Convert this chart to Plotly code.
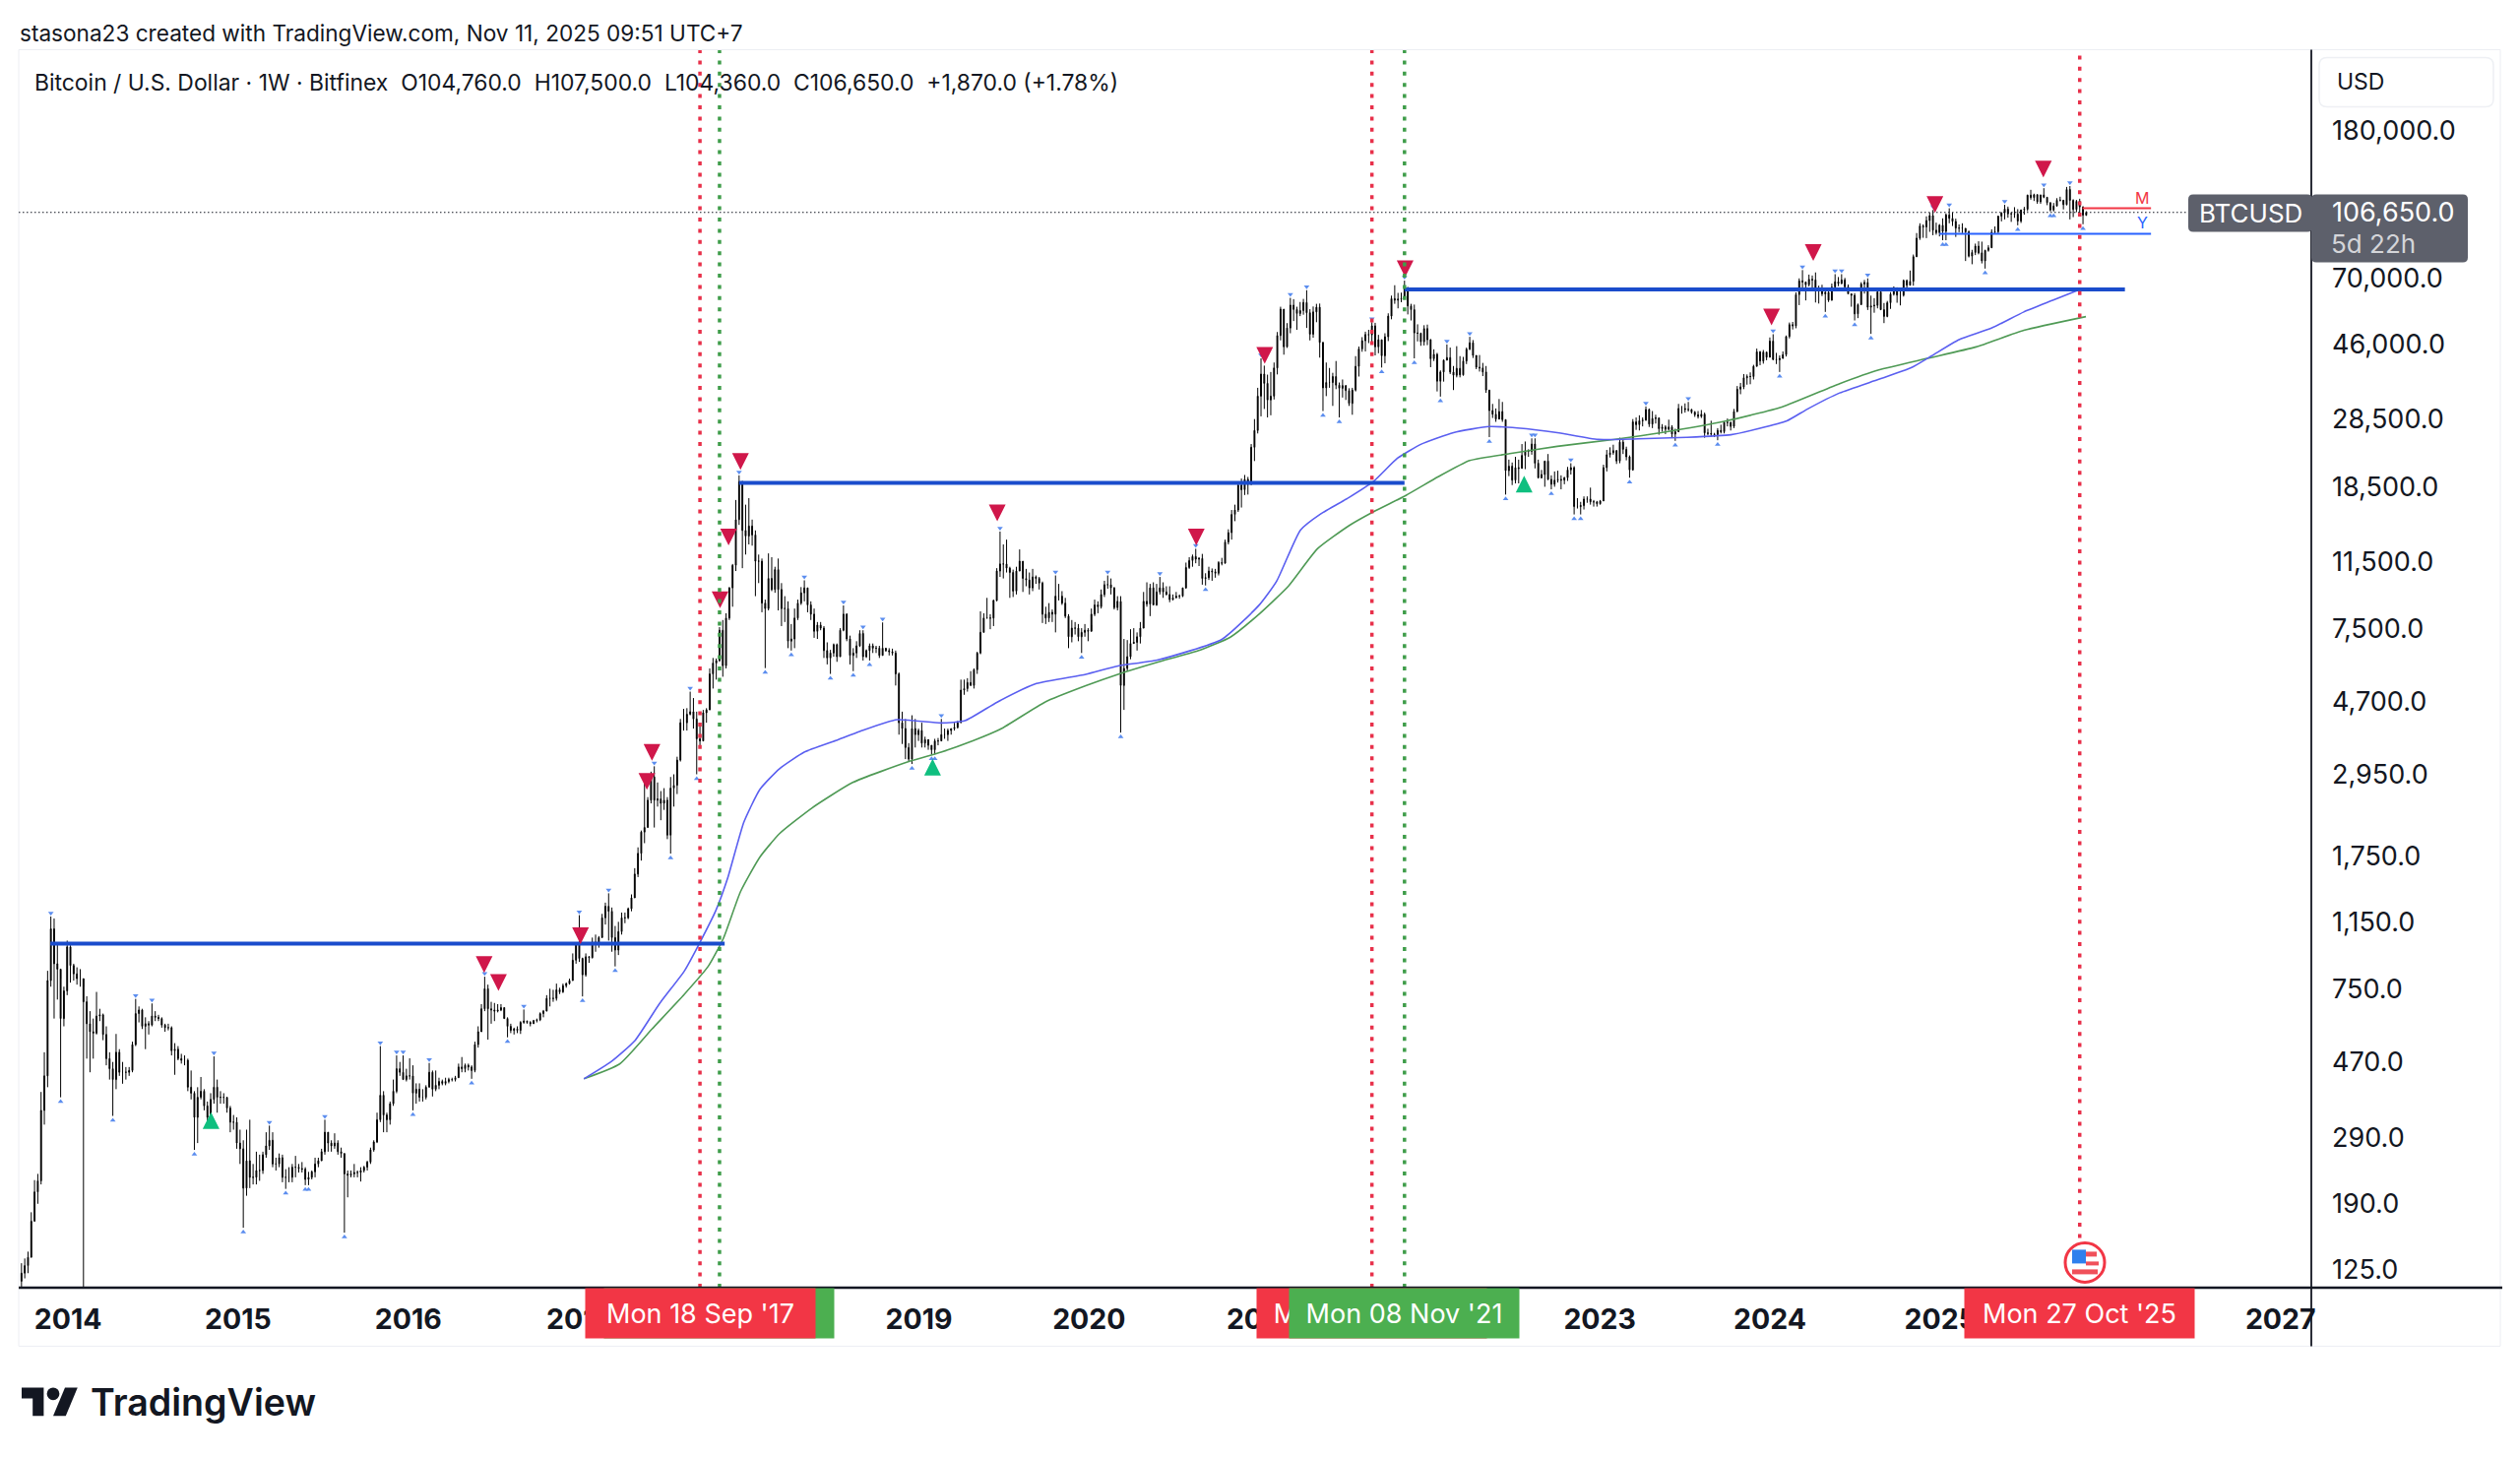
import datetime as dt
import math
import plotly.graph_objects as go

# --- weekly bars: (high, low, close); opens follow the previous close
first_monday = {2013: "2013-09-23", 2014: "2014-01-06", 2015: "2015-01-05", 2016: "2016-01-04", 2017: "2017-01-02",
                2018: "2018-01-01", 2019: "2019-01-07", 2020: "2020-01-06", 2021: "2021-01-04", 2022: "2022-01-03",
                2023: "2023-01-02", 2024: "2024-01-01", 2025: "2025-01-06"}
bars_2013 = [(130,111,122),(134,118,128),(140,122,135),(180,135,170),(221,170,205),(230,190,220),(388,215,345),(500,315,430),(841,400,790),(1190,760,1100),(1175,620,880),(1010,700,850),(800,375,620),(760,590,740),(1020,720,980)]
bars_2014 = [(990,780,870),(880,790,825),(860,770,800),(850,760,800),(760,102,690),(715,480,600),(650,440,570),(620,480,565),(735,560,630),(660,610,635),(640,540,560),(590,460,480),(500,420,450),(470,333,420),(562,395,500),(510,430,440),(470,409,440),(455,420,440),(455,430,445),(535,440,525),(703,520,640),(670,605,655),(660,580,590),(625,510,600),(610,560,595),(683,590,630),(650,610,625),(635,610,620),(625,585,595),(600,570,585),(600,575,585),(590,490,505),(530,433,510),(520,475,480),(495,465,475),(490,460,475),(480,390,400),(445,370,385),(390,268,330),(400,280,375),(427,370,390),(395,345,355),(365,308,330),(385,318,370),(487,360,400),(420,340,375),(390,360,375),(385,360,375),(375,340,350),(355,300,320),(335,305,320),(330,270,280)]
bars_2015 = [(305,245,270),(285,163,210),(305,200,250),(325,210,225),(245,215,225),(265,215,235),(260,220,235),(265,230,260),(300,255,275),(313,268,285),(300,240,245),(255,235,245),(262,240,255),(260,218,225),(237,209,225),(240,218,225),(245,218,240),(258,225,240),(245,232,238),(248,232,237),(240,214,222),(233,214,225),(235,222,233),(255,225,245),(255,240,250),(270,250,265),(325,260,300),(300,265,280),(285,265,275),(298,270,280),(285,260,265),(272,255,262),(262,158,230),(235,198,228),(235,225,230),(245,225,232),(235,225,232),(240,219,235),(242,232,240),(250,235,248),(272,245,268),(285,265,282),(340,280,325),(520,320,380),(390,300,335),(340,300,325),(365,315,360),(420,355,390),(490,385,450),(470,430,440),(490,420,420),(450,415,430)]
bars_2016 = [(481,420,430),(460,345,385),(410,360,395),(410,365,375),(395,365,375),(405,370,400),(467,400,440),(445,377,395),(445,390,405),(425,395,415),(420,405,410),(425,405,415),(425,410,420),(425,415,420),(430,415,425),(465,425,455),(485,440,450),(465,440,460),(465,445,455),(460,422,445),(535,440,525),(590,515,570),(680,570,660),(810,650,750),(770,542,660),(690,600,655),(685,610,650),(680,645,655),(680,650,665),(665,620,620),(625,550,590),(600,565,575),(585,560,580),(590,565,575),(610,562,605),(657,600,610),(612,600,605),(610,590,600),(615,600,612),(620,605,615),(645,610,640),(655,625,650),(720,650,705),(750,670,705),(745,690,705),(775,695,745),(755,725,735),(775,730,765),(780,755,775),(800,770,790),(940,790,900),(1000,880,1000)]
bars_2017 = [(1200,890,910),(915,714,820),(940,810,920),(925,885,915),(1040,910,1010),(1060,950,1000),(1050,975,1040),(1210,1050,1180),(1300,1130,1270),(1380,1020,1230),(1260,950,1040),(1120,865,960),(1150,930,1080),(1220,1060,1180),(1220,1140,1180),(1260,1170,1250),(1370,1230,1340),(1620,1340,1560),(1850,1530,1780),(2060,1700,2040),(2790,1900,2100),(2550,2100,2500),(3000,2450,2900),(3105,2100,2500),(2800,2400,2520),(2650,2200,2450),(2700,2350,2500),(2550,1950,2000),(2900,1778,2700),(2950,2400,2750),(3300,2600,3230),(4200,3200,4100),(4480,3900,4100),(4500,3900,4330),(5000,4300,4400),(4800,3950,4200),(4400,2950,3700),(4100,3500,3650),(4450,3650,4370),(4500,4100,4450),(5800,4450,5600),(6200,5100,6000),(6180,5400,6100),(7550,6050,7400),(7900,5500,5900),(8250,5800,8000),(9750,7900,9700),(11300,8600,11200),(17000,10800,15000),(19900,14500,19100),(19200,11000,14000),(16500,12000,13500)]
bars_2018 = [(17200,12800,14400),(15000,12700,13600),(14000,9200,11500),(12000,10000,11500),(11700,8300,8800),(9000,5812,8500),(12090,8400,10300),(11800,9500,9600),(11100,9400,10900),(11700,8400,9600),(10000,7600,8500),(9200,7800,8500),(8900,6600,6900),(7700,6500,7000),(8500,6600,8000),(9000,7900,8800),(9750,8700,9400),(10180,8900,9700),(9700,8300,8700),(8900,7900,8200),(8500,7050,7350),(7800,7000,7650),(7800,7400,7500),(7600,6200,6500),(6850,5950,6200),(6530,5600,6400),(6800,6250,6750),(6800,6050,6250),(7500,6300,7400),(8670,7350,8200),(8250,6900,7000),(7150,5950,6300),(6600,5700,6400),(6900,6200,6700),(7400,6650,7250),(7400,6100,6250),(6550,6200,6500),(6800,6100,6700),(6800,6400,6600),(6700,6400,6600),(6700,6200,6300),(7780,6300,6600),(6600,6450,6500),(6600,6300,6450),(6580,6300,6400),(6500,5200,5600),(5650,3800,4100),(4400,3580,3950),(4200,3250,3500),(3600,3200,3250),(4300,3150,3950),(4200,3500,3800),(3950,3650,3900)]
bars_2019 = [(4100,3500,3600),(3750,3500,3680),(3650,3450,3550),(3550,3350,3450),(3700,3350,3650),(3720,3550,3650),(4200,3650,3800),(3950,3700,3800),(3950,3650,3900),(3950,3800,3950),(4100,3900,3980),(4150,3950,4100),(5400,4100,5050),(5400,4900,5100),(5450,5000,5300),(5700,5200,5200),(5800,5100,5750),(6450,5600,6400),(8350,6350,7300),(8250,7300,8000),(9100,8000,8000),(8200,7450,8000),(9000,7600,8950),(11000,8900,10800),(13900,10400,11300),(12800,10300,11300),(13200,10700,11000),(11100,9100,10700),(10900,9150,9500),(11100,9300,10800),(12400,11100,11500),(11500,9450,10300),(10950,9800,10200),(10700,9300,9700),(10950,9500,10400),(10500,9950,10300),(10400,9600,10000),(10100,7750,8200),(8600,7700,8000),(8800,7800,8300),(8450,7800,8200),(10500,7300,9200),(9950,8950,9200),(9500,8700,8800),(9100,8000,8100),(8200,6600,7100),(7900,6850,7500),(7800,7200,7500),(7700,6900,7100),(7500,6400,7300),(7700,7100,7400),(7500,6900,7350)]
bars_2020 = [(8500,7650,8200),(9000,8100,8700),(8900,8250,8600),(9600,8500,9300),(10150,9150,9900),(10500,9650,9900),(10300,9300,9700),(9750,8450,8550),(9200,8400,8900),(9200,3850,5200),(7000,4450,5800),(6950,5700,6250),(7450,6150,6800),(7500,6800,6850),(7300,6500,7100),(7800,6800,7500),(9450,7500,8900),(10050,8600,8750),(9950,8100,9700),(10050,8800,8700),(9950,8650,9450),(10400,9300,9700),(10050,9100,9450),(9800,9250,9300),(9800,8850,9000),(9300,8950,9100),(9450,9100,9200),(9300,9050,9200),(9700,9150,9700),(11400,9650,11050),(11800,10950,11550),(12000,11100,11850),(12450,11350,11650),(11800,11150,11700),(12050,9900,10300),(10650,9850,10350),(11100,10200,10800),(10980,10150,10750),(10950,10350,10650),(11500,10500,11400),(11750,11200,11350),(13200,11400,13000),(14100,12800,13800),(15950,13200,15500),(16500,14850,15950),(18900,15750,18700),(19500,16200,18150),(19950,17550,19400),(19700,17600,18800),(24300,18700,23800),(28500,21800,26500),(34800,26000,33000)]
bars_2021 = [(42000,29000,38000),(40100,30400,35800),(37850,28800,32200),(38500,29200,33000),(40900,32300,39500),(49700,37900,48600),(58400,47100,57500),(57500,43000,45200),(52600,44900,51000),(61800,49300,59000),(61300,53300,57400),(58400,50400,55900),(60200,55000,57000),(61400,55500,60000),(64900,51000,56200),(57500,47100,49000),(58500,47900,56500),(59500,52900,58200),(59600,42200,46500),(46600,30000,34800),(40900,33000,36000),(39500,34800,36000),(38300,31000,37400),(41300,34500,35400),(36000,28800,34700),(36700,32700,35300),(35100,32200,34200),(34700,31000,31500),(34800,29300,34300),(42600,34000,39900),(45300,37400,44600),(48100,43800,47000),(49800,43900,48900),(50400,46300,48800),(52900,46500,51700),(52700,42800,45200),(48800,43400,47300),(47300,39600,42700),(49300,40700,48200),(56000,46900,55000),(62700,53900,61500),(67000,59500,60900),(63800,57800,61300),(63900,60100,61500),(69000,62300,65500),(66300,55600,58700),(59500,53500,57300),(59200,42000,49400),(52200,46800,49300),(49500,45500,46700),(51900,45600,50800),(52100,45700,47300)]
bars_2022 = [(47500,39700,41900),(44500,41300,43100),(43500,34000,36300),(38900,32900,38500),(41700,36200,41500),(45900,41700,42200),(45000,38000,38500),(40000,34300,37700),(45400,37200,39400),(42600,37200,37800),(42400,37600,41300),(45000,40500,44500),(48200,44300,46400),(47200,42100,42800),(42400,39200,39700),(42900,38600,39500),(40800,37500,38500),(40000,33700,34300),(34300,25400,30100),(31400,28700,29400),(30500,28000,28500),(32400,29300,29900),(31800,28000,28400),(28400,17600,20500),(22000,19800,21100),(21600,18700,19300),(22400,18900,20900),(22000,18900,20800),(24300,20800,22600),(24700,20700,23300),(23500,22400,23200),(25200,22700,24300),(25200,20800,21500),(22000,19500,19600),(20600,19500,20000),(21800,18500,21800),(22800,19300,19400),(19900,18200,18800),(20400,18500,19300),(20500,19000,19400),(19900,18200,19300),(19700,18800,19600),(21000,19200,20600),(21500,20000,20900),(21100,15500,16300),(17200,16100,16300),(16800,15500,16400),(17400,16000,17100),(17400,16700,17100),(18400,16500,16800),(17000,16300,16800),(16900,16300,16600)]
bars_2023 = [(17000,16500,16900),(21300,17000,20900),(23400,20400,22700),(23800,22300,23000),(24200,22700,23300),(23400,21400,21800),(25300,21500,24600),(25100,22800,23500),(23900,21900,22400),(22600,19600,20600),(28500,20500,28000),(28800,26600,27500),(29200,26500,28200),(28800,27200,28300),(30900,28200,30300),(30500,27100,27600),(30000,26900,28600),(29300,27700,28700),(28800,25800,26800),(27600,26300,27100),(27400,25900,26700),(28400,26500,27100),(27400,25400,25900),(26800,24800,26300),(31400,26200,30500),(31000,29500,30500),(31500,29700,30300),(31800,29900,30300),(30400,29500,29800),(30000,28900,29300),(30000,28600,29000),(30200,28700,29400),(29700,25300,26100),(26800,25700,26000),(28200,25500,25900),(26100,25400,25800),(26900,24900,26500),(27500,26000,26300),(28100,26000,27900),(28600,27200,27900),(28000,26500,27200),(30400,26900,29900),(35200,29800,34500),(35900,33400,35000),(38000,34500,37100),(37900,35500,37400),(38400,35600,37400),(40300,36700,39900),(44700,39900,43800),(44000,40200,41300),(44300,40600,43700),(43800,41500,42300)]
bars_2024 = [(48000,42600,46900),(49000,41500,41700),(43500,40500,41600),(42800,38500,42000),(43900,41900,43000),(48600,42500,48300),(52800,47700,52100),(53000,50500,51700),(64000,50900,63100),(70000,59000,68900),(73800,64500,68400),(68000,60800,67200),(71700,66500,69600),(71300,64500,69300),(72700,60000,65600),(66800,59600,64900),(67200,62500,63400),(64700,56500,64000),(65500,60200,60900),(67700,60700,66200),(71900,66200,68500),(70600,66600,67700),(71900,67500,69300),(70200,65000,66300),(67300,63200,63400),(63300,58400,62800),(63700,53500,55800),(59600,54300,59200),(68300,59100,67500),(69300,63500,68200),(70000,57200,58200),(62700,49100,58700),(61700,56200,58900),(65000,57800,64200),(64500,57200,57300),(59800,52600,54900),(60600,54600,59900),(64100,57600,63300),(66500,62700,65900),(66000,59900,62900),(64500,58900,62900),(69500,62300,69000),(69500,65300,67000),(73600,67500,68700),(81500,66800,80400),(93500,80200,90500),(99500,89500,97800),(98800,90700,97200),(104000,90500,101200),(106500,94200,104500),(108300,92200,95200),(99900,92500,93700),(99000,91500,98300)]
bars_2025 = [(102700,89300,94500),(106000,89300,105000),(109500,99500,102700),(106500,97800,100700),(102500,91200,96500),(98800,94000,96500),(99500,93400,96300),(96500,78200,94200),(95000,80000,80700),(84000,76600,82600),(87400,81200,86000),(88700,81600,82400),(88500,77000,78300),(84000,74500,83700),(86500,83000,85100),(95700,85200,94000),(97500,92800,94300),(104400,93400,104100),(106700,100700,106400),(112000,102000,109000),(110700,103100,105700),(106800,100400,105700),(110300,103000,105500),(108900,98200,100900),(108500,99700,108400),(110500,105100,108900),(119400,107500,119100),(123200,115700,117300),(120200,114700,119400),(119800,112700,114200),(119300,112700,119300),(124500,116800,117500),(117700,111700,113500),(113700,107300,108300),(113300,107300,111100),(116800,110800,115300),(117900,114400,115300),(113700,108700,112100),(125500,111600,123500),(126200,102000,115200),(116000,103500,108700),(115500,106800,114500),(116400,106300,110500),(110800,98900,104760),(107500,104360,106650)]
bars_by_year = {2013: bars_2013, 2014: bars_2014, 2015: bars_2015, 2016: bars_2016, 2017: bars_2017, 2018: bars_2018, 2019: bars_2019,
                2020: bars_2020, 2021: bars_2021, 2022: bars_2022, 2023: bars_2023, 2024: bars_2024, 2025: bars_2025}

# moving averages, (year fraction, price)
ma_blue_years = [2017.03,2017.19,2017.33,2017.475,2017.62,2017.71,2017.805,2017.875,2017.97,2018.065,2018.18,2018.325,2018.51,2018.655,2018.87,2019.13,2019.27,2019.46,2019.69,2019.98,2020.17,2020.40,2020.78,2021.0,2021.10,2021.24,2021.36,2021.525,2021.67,2021.81,2021.95,2022.14,2022.35,2022.515,2022.75,2022.99,2023.225,2023.51,2023.77,2023.93,2024.10,2024.22,2024.41,2024.64,2024.83,2024.95,2025.11,2025.30,2025.49,2025.66,2025.82]
ma_blue_values = [422,471,539,683,840,1005,1236,1522,2175,2680,3058,3398,3658,3884,4181,4094,4153,4677,5265,5585,5893,6115,6982,8717,10120,14030,15570,17270,19150,22200,24290,26140,27180,26930,26140,25020,25130,25370,25780,26790,28180,30370,33680,36740,39550,42660,47320,50930,56490,60830,65200]
ma_green_years = [2017.03,2017.24,2017.43,2017.62,2017.76,2017.85,2017.95,2018.065,2018.18,2018.37,2018.61,2018.94,2019.13,2019.32,2019.48,2019.74,2019.98,2020.17,2020.40,2020.64,2020.83,2021.0,2021.17,2021.34,2021.525,2021.67,2021.86,2022.05,2022.235,2022.47,2022.75,2023.08,2023.36,2023.745,2024.07,2024.41,2024.64,2024.925,2025.21,2025.49,2025.855]
ma_green_values = [422,464,580,724,865,1036,1394,1740,2020,2378,2800,3200,3398,3658,3938,4677,5192,5585,6030,6490,7080,8228,9820,12450,14430,15780,17510,19720,21880,22860,23950,25020,26140,28180,30780,35730,39000,41980,45190,50230,54830]

# triangles
sell_years = [2016.446,2016.53,2017.01,2017.40,2017.43,2017.83,2017.88,2017.95,2019.46,2020.63,2021.03,2021.855,2024.01,2024.255,2024.97,2025.605]
sell_prices = [875,781,1052,2819,3391,8990,13418,21730,15650,13418,42800,74470,54700,82500,112200,140700]
buy_years = [2014.84,2019.08,2022.555]
buy_prices = [323,3090,18820]

# levels: (start, end, price)
level_starts = ["2013-11-24","2017-12-11","2021-11-08"]
level_ends = ["2017-11-10","2021-11-08","2026-02-01"]
level_prices = [1001,18970,65200]
m_level = ("2025-11-02","2026-03-29",109500)
y_level = ("2024-12-30","2026-03-29",93060)
last_price = 106650

red_lines = ["2017-09-18","2021-08-30","2025-10-27"]
green_lines = ["2017-10-30","2021-11-08"]

year_ticks = list(range(2014,2028))
price_ticks = [180000,70000,46000,28500,18500,11500,7500,4700,2950,1750,1150,750,470,290,190,125]

# --- page geometry (pixels)
W,H = 2560,1481
PL,PR,PT,PB = 19,2348,50.5,1307.6
def px(x): return (x-PL)/(PR-PL)
def py(y): return (PB-y)/(PB-PT)
def yr2date(y):
    yi = int(y)
    return dt.datetime(yi,1,1)+dt.timedelta(days=(y-yi)*365.25)
def rrect(x0,y0,x1,y1,r):
    a,b,c,d = px(x0),px(x1),py(y0),py(y1)
    rx,ry = r/(PR-PL), r/(PB-PT)
    return (f"M{a+rx},{c} L{b-rx},{c} Q{b},{c} {b},{c-ry} L{b},{d+ry} Q{b},{d} {b-rx},{d} "
            f"L{a+rx},{d} Q{a},{d} {a},{d+ry} L{a},{c-ry} Q{a},{c} {a+rx},{c} Z")

dates,high,low,close = [],[],[],[]
for yr,rows in bars_by_year.items():
    d0 = dt.datetime.fromisoformat(first_monday[yr])
    for i,(h,l,c) in enumerate(rows):
        dates.append(d0+dt.timedelta(days=7*i)); high.append(h); low.append(l); close.append(c)
opens = [close[0]*0.95]+close[:-1]

FONT = "Inter"
INK = "#131722"
fig = go.Figure()
fig.add_trace(go.Candlestick(x=dates,open=opens,high=high,low=low,close=close,
    increasing=dict(line=dict(color="#000000",width=1),fillcolor="#000000"),
    decreasing=dict(line=dict(color="#000000",width=1),fillcolor="#000000"),
    whiskerwidth=0,hoverinfo="skip",showlegend=False))

# pivot marks of the fractal study, from the same bars
N = 4
fx_h,fy_h,fx_l,fy_l = [],[],[],[]
for i in range(len(dates)):
    a,b = max(0,i-N),min(len(dates),i+N+1)
    if i>=N and i<len(dates)-1 and high[i]==max(high[a:b]):
        fx_h.append(dates[i]); fy_h.append(high[i]*1.022)
    if i>=N and i<len(dates)-1 and low[i]==min(low[a:b]) and low[i]>111:
        fx_l.append(dates[i]); fy_l.append(low[i]/1.028)
fig.add_trace(go.Scatter(x=fx_h,y=fy_h,mode="markers",marker=dict(symbol="triangle-down",size=5,color="#5b8def"),hoverinfo="skip",showlegend=False))
fig.add_trace(go.Scatter(x=fx_l,y=fy_l,mode="markers",marker=dict(symbol="triangle-up",size=5,color="#5b8def"),hoverinfo="skip",showlegend=False))

fig.add_trace(go.Scatter(x=[yr2date(v) for v in ma_green_years],y=ma_green_values,mode="lines",line=dict(color="#4f9a55",width=1.6,shape="spline",smoothing=0.5),hoverinfo="skip",showlegend=False))
fig.add_trace(go.Scatter(x=[yr2date(v) for v in ma_blue_years],y=ma_blue_values,mode="lines",line=dict(color="#5a5ff0",width=1.6,shape="spline",smoothing=0.5),hoverinfo="skip",showlegend=False))

for s,e,p in zip(level_starts,level_ends,level_prices):
    fig.add_trace(go.Scatter(x=[s,e],y=[p,p],mode="lines",line=dict(color="#1a4ccc",width=4),hoverinfo="skip",showlegend=False))
fig.add_trace(go.Scatter(x=m_level[:2],y=[m_level[2]]*2,mode="lines",line=dict(color="#f23645",width=2),hoverinfo="skip",showlegend=False))
fig.add_trace(go.Scatter(x=y_level[:2],y=[y_level[2]]*2,mode="lines",line=dict(color="#2962ff",width=2),hoverinfo="skip",showlegend=False))

# tall triangles: filled polygons around each signal (half sizes are style, in days / log-price)
HALF_DAYS = 18.0
HALF_FACTOR = 10**(8.5/366.3)
def tri_trace(years,prices,down,color):
    xs,ys = [],[]
    for yv,p in zip(years,prices):
        d = yr2date(yv); dd = dt.timedelta(days=HALF_DAYS)
        if down:
            xs += [d-dd,d+dd,d,None]; ys += [p*HALF_FACTOR,p*HALF_FACTOR,p/HALF_FACTOR,None]
        else:
            xs += [d-dd,d+dd,d,None]; ys += [p/HALF_FACTOR,p/HALF_FACTOR,p*HALF_FACTOR,None]
    return go.Scatter(x=xs,y=ys,mode="lines",fill="toself",fillcolor=color,line=dict(width=0,color=color),hoverinfo="skip",showlegend=False)
fig.add_trace(tri_trace(sell_years,sell_prices,True,"#d0174a"))
fig.add_trace(tri_trace(buy_years,buy_prices,False,"#0fbf7f"))

shapes,anns = [],[]
def rect(x0,y0,x1,y1,fill=None,line=None,lw=1,r=0,layer="above"):
    shapes.append(dict(type="path",path=rrect(x0,y0,x1,y1,r) if r else f"M{px(x0)},{py(y0)} L{px(x1)},{py(y0)} L{px(x1)},{py(y1)} L{px(x0)},{py(y1)} Z",
        xref="paper",yref="paper",fillcolor=fill or "rgba(0,0,0,0)",line=dict(color=line or "rgba(0,0,0,0)",width=lw if line else 0),layer=layer))
def hv(x0,y0,x1,y1,color,lw,dash="solid",layer="above"):
    shapes.append(dict(type="line",xref="paper",yref="paper",x0=px(x0),x1=px(x1),y0=py(y0),y1=py(y1),line=dict(color=color,width=lw,dash=dash),layer=layer))
def text(x,y,s,size,color=INK,anchor="left",weight=400,vanchor="middle"):
    anns.append(dict(xref="paper",yref="paper",x=px(x),y=py(y),text=s,showarrow=False,xanchor=anchor,yanchor=vanchor,
        font=dict(family=FONT,size=size,color=color,weight=weight),borderpad=0,align="left"))

# frame
rect(19,50,2540,1367,line="#eceef3",lw=1,layer="below")
shapes.append(dict(type="line",xref="paper",yref="y",x0=0,x1=px(2223),y0=last_price,y1=last_price,line=dict(color=INK,width=1.2,dash="1.5px,2.5px"),layer="above"))

# vertical session lines
dot = "4px,7.4px"
for d,c,top in [(red_lines[0],"#e8304a",0),(green_lines[0],"#3f9d4a",0),(red_lines[1],"#e8304a",0),(green_lines[1],"#3f9d4a",0),(red_lines[2],"#e8304a",py(1257))]:
    shapes.append(dict(type="line",xref="x",yref="paper",x0=d,x1=d,y0=top,y1=1,line=dict(color=c,width=3.5,dash=dot),layer="above"))

# axes
hv(19,1307.6,2542,1307.6,INK,2.5)
hv(2348,50,2348,1367,INK,1.8)

# USD box and price flag
rect(2356,58,2533,108,fill="#ffffff",line="#eef0f4",lw=1.5,r=8)
text(2373,83,"USD",23)
rect(2223,197,2349,235,fill="#5d606b",r=5)
rect(2348,197,2507,266,fill="#5d606b",r=5)
text(2233,216,"BTCUSD",26,"#ffffff")
text(2368,215,"106,650.0",27,"#ffffff")
text(2367,247,"5d 22h",26,"#d4d5d9")

# header
text(19,33,"stasona23 created with TradingView.com, Nov 11, 2025 09:51 UTC+7",22.6)
text(34,84,"Bitcoin / U.S. Dollar · 1W · Bitfinex&nbsp;&nbsp;O104,760.0&nbsp;&nbsp;H107,500.0&nbsp;&nbsp;L104,360.0&nbsp;&nbsp;C106,650.0&nbsp;&nbsp;+1,870.0 (+1.78%)",22.9)

# M / Y tags (annotation y on a log axis takes log10)
anns.append(dict(xref="x",yref="y",x="2026-03-10",y=math.log10(m_level[2]),yshift=11,text="M",showarrow=False,font=dict(family=FONT,size=16,color="#f23645")))
anns.append(dict(xref="x",yref="y",x="2026-03-10",y=math.log10(y_level[2]),yshift=11,text="Y",showarrow=False,font=dict(family=FONT,size=16,color="#2962ff")))

# date flags on the time axis
def flag(date,label,color):
    anns.append(dict(xref="x",yref="paper",x=date,y=0,yanchor="top",xanchor="center",text=label,showarrow=False,
        width=233,height=50,bgcolor=color,borderpad=0,valign="middle",align="center",font=dict(family=FONT,size=27,color="#ffffff")))
flag(green_lines[0],"Mon 30 Oct '17","#4caf50")
flag(red_lines[0],"Mon 18 Sep '17","#f23645")
flag(red_lines[1],"Mon 30 Aug '21","#f23645")
flag(green_lines[1],"Mon 08 Nov '21","#4caf50")
flag(red_lines[2],"Mon 27 Oct '25","#f23645")

# US event badge
cx,cy,r = 2118,1282,20
shapes.append(dict(type="circle",xref="paper",yref="paper",x0=px(cx-r),x1=px(cx+r),y0=py(cy+r),y1=py(cy-r),fillcolor="#ffffff",line=dict(color="#f23645",width=3),layer="above"))
rect(cx-13,cy-13,cx+1,cy+1,fill="#2f80ed")
rect(cx+1,cy-11,cx+12,cy-6,fill="#f0505a")
rect(cx+1,cy-1,cx+14,cy+3,fill="#f0505a")
rect(cx-13,cy+7,cx+13,cy+12,fill="#f0505a")

# TradingView mark
def lx(u): return px(22+1.6*u)
def ly(v): return py(1409+1.6*(v-4))
seg1 = [(14,22),(7,22),(7,11),(0,11),(0,4),(14,4)]
seg2 = [(28,22),(20,22),(27.5,4),(35.5,4)]
for seg in (seg1,seg2):
    shapes.append(dict(type="path",xref="paper",yref="paper",path="M"+" L".join(f"{lx(u)},{ly(v)}" for u,v in seg)+" Z",fillcolor=INK,line=dict(width=0),layer="above"))
shapes.append(dict(type="circle",xref="paper",yref="paper",x0=lx(16),x1=lx(24),y0=ly(12),y1=ly(4),fillcolor=INK,line=dict(width=0),layer="above"))
text(91,1424,"TradingView",37.6,INK,weight=600)

fig.update_layout(
    width=W,height=H,autosize=False,
    margin=dict(l=PL,r=W-PR,t=PT,b=H-PB),
    paper_bgcolor="#ffffff",plot_bgcolor="#ffffff",showlegend=False,boxgap=0.62,
    shapes=shapes,annotations=anns,
    xaxis=dict(type="date",range=["2013-09-17","2027-03-08"],rangeslider=dict(visible=False),showgrid=False,zeroline=False,showline=False,
        tickmode="array",tickvals=[f"{y}-01-01" for y in year_ticks],ticktext=[str(y) for y in year_ticks],
        tickfont=dict(family=FONT,size=28.5,color=INK,weight=700),ticks="",ticklabelstandoff=12),
    yaxis=dict(type="log",range=[2.0461,5.4778],side="right",showgrid=False,zeroline=False,showline=False,
        tickmode="array",tickvals=price_ticks,ticktext=[f"{v:,.1f}" for v in price_ticks],
        tickfont=dict(family=FONT,size=27,color=INK),ticks="",ticklabelstandoff=20),
)
fig.write_html("out.html",config={"displayModeBar":False},post_script="document.body.style.margin='0';document.body.style.overflow='hidden';")
